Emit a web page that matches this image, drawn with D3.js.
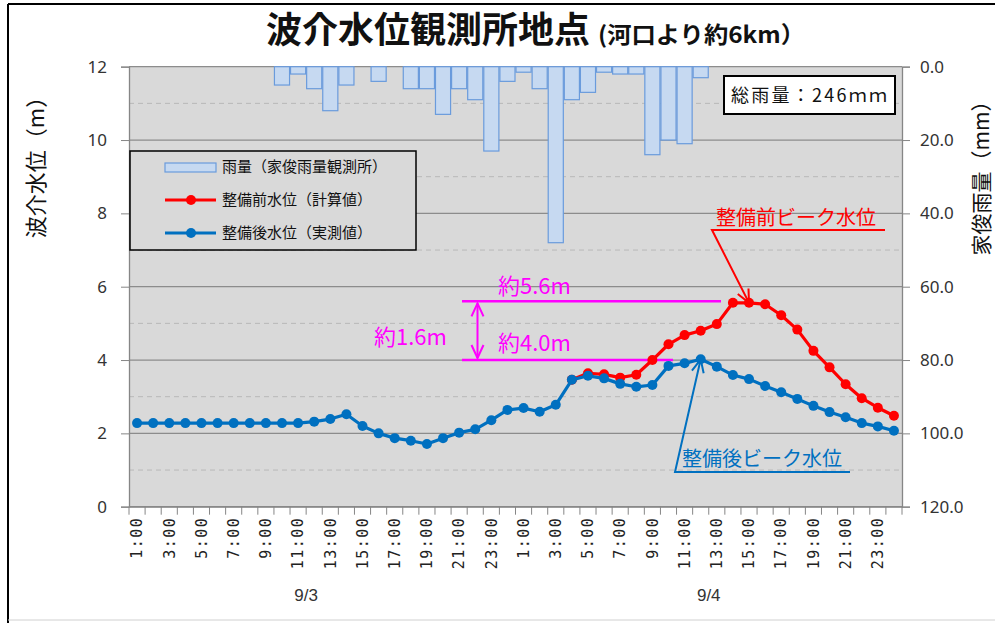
<!DOCTYPE html>
<html>
<head>
<meta charset="utf-8">
<script src="https://cdn.jsdelivr.net/npm/d3@7/dist/d3.min.js"></script>
<style>
body { margin: 0; background: #fff; }
svg { display: block; }
</style>
</head>
<body>
<svg id="chart" width="995" height="623"></svg>
<script>
// data
var days = ["9/3", "9/4"];
var hours = ["1:00", "2:00", "3:00", "4:00", "5:00", "6:00", "7:00", "8:00", "9:00", "10:00", "11:00", "12:00",
             "13:00", "14:00", "15:00", "16:00", "17:00", "18:00", "19:00", "20:00", "21:00", "22:00", "23:00", "24:00"];
var rain = [0, 0, 0, 0, 0, 0, 0, 0, 0, 5, 2, 6, 12, 5, 0, 4, 0, 6, 6, 13, 6, 9, 23, 4,
            1.5, 6, 48, 9, 7, 1.5, 2, 2, 24, 20, 21, 3, 0, 0, 0, 0, 0, 0, 0, 0, 0, 0, 0, 0];
var levelAfter = [2.28, 2.28, 2.28, 2.28, 2.28, 2.28, 2.28, 2.28, 2.28, 2.28, 2.28, 2.32, 2.39, 2.52, 2.2, 2.0,
                  1.87, 1.8, 1.71, 1.87, 2.02, 2.11, 2.36, 2.64, 2.69, 2.59, 2.78, 3.46, 3.57, 3.5, 3.35, 3.27,
                  3.32, 3.84, 3.91, 4.02, 3.82, 3.59, 3.48, 3.29, 3.12, 2.94, 2.75, 2.58, 2.44, 2.28, 2.19, 2.07];
var levelBefore = [null, null, null, null, null, null, null, null, null, null, null, null, null, null, null, null,
                   null, null, null, null, null, null, null, null, null, null, null, 3.46, 3.64, 3.61, 3.52, 3.6,
                   4.0, 4.43, 4.68, 4.8, 4.98, 5.56, 5.56, 5.52, 5.22, 4.83, 4.25, 3.8, 3.34, 2.96, 2.7, 2.48];
var leftTicks = [0, 2, 4, 6, 8, 10, 12];
var minorTicks = [1, 3, 5, 7, 9, 11];
var rightTicks = [0, 20, 40, 60, 80, 100, 120];
var peakBefore = 5.6, peakAfter = 4.0;
var totalRain = "総雨量：246ｍｍ";

var cats = [];
days.forEach(function (d) {
    hours.forEach(function (h) { cats.push(d + " " + h); });
});

var jp = "'Noto Sans CJK JP', 'Noto Sans', sans-serif";
var svg = d3.select("#chart");
var plot = {left: 129, right: 902, top: 66.7, bottom: 506.7};

var x = d3.scaleBand().domain(cats).range([plot.left, plot.right]).padding(0);
var y = d3.scaleLinear().domain([0, 12]).range([plot.bottom, plot.top]);
var yR = d3.scaleLinear().domain([0, 120]).range([plot.top, plot.bottom]);
var bw = x.bandwidth();
function cx(i) { return x(cats[i]) + bw / 2; }

// outer frame
svg.append("line").attr("x1", 8).attr("y1", 4).attr("x2", 995).attr("y2", 4)
    .attr("stroke", "#000").attr("stroke-width", 2);
svg.append("line").attr("x1", 8).attr("y1", 4).attr("x2", 8).attr("y2", 623)
    .attr("stroke", "#000").attr("stroke-width", 2);
svg.append("line").attr("x1", 8).attr("y1", 620).attr("x2", 995).attr("y2", 620)
    .attr("stroke", "#d0d0d0").attr("stroke-width", 1);

// markers for arrows
var defs = svg.append("defs");
[["arrRed", "#ff0000"], ["arrBlue", "#0070c0"], ["arrMag", "#ff00ff"]].forEach(function (m) {
    defs.append("marker")
        .attr("id", m[0])
        .attr("markerUnits", "userSpaceOnUse")
        .attr("markerWidth", 30).attr("markerHeight", 30)
        .attr("refX", 0).attr("refY", 0)
        .attr("viewBox", "-15 -15 30 30")
        .attr("orient", "auto-start-reverse")
        .append("path")
        .attr("d", "M-13,-6 L0,0 L-13,6")
        .attr("fill", "none")
        .attr("stroke", m[1])
        .attr("stroke-width", 2);
});

// plot background
svg.append("rect")
    .attr("x", plot.left).attr("y", plot.top)
    .attr("width", plot.right - plot.left).attr("height", plot.bottom - plot.top)
    .attr("fill", "#d9d9d9");

// grid
svg.selectAll(".minor").data(minorTicks).enter().append("line")
    .attr("x1", plot.left).attr("x2", plot.right)
    .attr("y1", function (d) { return y(d); }).attr("y2", function (d) { return y(d); })
    .attr("stroke", "#b8b8b8").attr("stroke-dasharray", "5,4");
svg.selectAll(".major").data(leftTicks).enter().append("line")
    .attr("x1", plot.left).attr("x2", plot.right)
    .attr("y1", function (d) { return y(d); }).attr("y2", function (d) { return y(d); })
    .attr("stroke", "#8c8c8c").attr("stroke-width", 1.3);

// rain bars hanging from top
svg.append("g").selectAll("rect")
    .data(rain.map(function (v, i) { return {v: v, c: cats[i]}; }).filter(function (d) { return d.v > 0; }))
    .enter().append("rect")
    .attr("x", function (d) { return x(d.c) + 0.5; })
    .attr("y", yR(0))
    .attr("width", bw - 1)
    .attr("height", function (d) { return yR(d.v) - yR(0); })
    .attr("fill", "#c6d9f1")
    .attr("stroke", "#6a9bdc")
    .attr("stroke-width", 1.2);

// axes
var gx = svg.append("g").attr("transform", "translate(0," + plot.bottom + ")")
    .call(d3.axisBottom(x).tickSize(0).tickPadding(10)
        .tickFormat(function (d, i) { return i % 2 === 0 ? d.split(" ")[1] : ""; }));
gx.select(".domain").attr("stroke", "#868686").attr("stroke-width", 1.3);
gx.selectAll("text")
    .attr("transform", "rotate(-90)")
    .attr("x", -10).attr("y", 0).attr("dy", "0.35em")
    .attr("text-anchor", "end")
    .style("font-family", "'DejaVu Sans Mono', monospace")
    .style("font-size", "15px")
    .style("letter-spacing", "1.5px")
    .attr("fill", "#222");
gx.selectAll(".bound").data(cats.concat(["end"])).enter().append("line")
    .attr("x1", function (d) { return d === "end" ? plot.right : x(d); })
    .attr("x2", function (d) { return d === "end" ? plot.right : x(d); })
    .attr("y1", 0).attr("y2", 8)
    .attr("stroke", "#868686");

var gl = svg.append("g").attr("transform", "translate(" + plot.left + ",0)")
    .call(d3.axisLeft(y).tickValues(leftTicks).tickSize(8).tickPadding(14));
var gr = svg.append("g").attr("transform", "translate(" + plot.right + ",0)")
    .call(d3.axisRight(yR).tickValues(rightTicks).tickSize(8).tickPadding(10).tickFormat(d3.format(".1f")));
[gl, gr].forEach(function (g) {
    g.select(".domain").attr("stroke", "#868686").attr("stroke-width", 1.3);
    g.selectAll(".tick line").attr("stroke", "#868686");
    g.selectAll("text").style("font-family", "'Noto Sans', sans-serif").style("font-size", "17px").attr("fill", "#333");
});

// date labels
svg.selectAll(".day").data(days).enter().append("text")
    .attr("x", function (d, i) { return x(cats[i * 25 + 11]); })
    .attr("y", 601)
    .attr("text-anchor", "middle")
    .style("font-family", "'Liberation Sans Narrow', 'Liberation Sans', sans-serif")
    .style("font-size", "17px")
    .attr("fill", "#333")
    .text(function (d) { return d; });

// axis titles
svg.append("text")
    .attr("transform", "translate(44,162) rotate(-90)")
    .attr("text-anchor", "middle")
    .style("font-family", jp).style("font-size", "22px").attr("fill", "#111")
    .text("波介水位（m）");
svg.append("text")
    .attr("transform", "translate(989,173) rotate(-90)")
    .attr("text-anchor", "middle")
    .style("font-family", jp).style("font-size", "21px").attr("fill", "#111")
    .text("家俊雨量（mm）");

// title
var title = svg.append("text").attr("y", 43).style("font-family", jp).style("font-weight", "bold").attr("fill", "#111");
title.append("tspan").attr("x", 266).style("font-size", "36px").text("波介水位観測所地点");
title.append("tspan").attr("x", 598).attr("textLength", 207).attr("lengthAdjust", "spacingAndGlyphs")
    .style("font-size", "23px").text("(河口より約6km）");

// magenta difference annotation
svg.append("line").attr("x1", 462).attr("x2", 721).attr("y1", y(peakBefore)).attr("y2", y(peakBefore))
    .attr("stroke", "#ff00ff").attr("stroke-width", 2.5);
svg.append("line").attr("x1", 462).attr("x2", 673).attr("y1", y(peakAfter)).attr("y2", y(peakAfter))
    .attr("stroke", "#ff00ff").attr("stroke-width", 2.5);
svg.append("line").attr("x1", 477.5).attr("x2", 477.5).attr("y1", y(peakBefore) + 2).attr("y2", y(peakAfter) - 2)
    .attr("stroke", "#ff00ff").attr("stroke-width", 2)
    .attr("marker-start", "url(#arrMag)").attr("marker-end", "url(#arrMag)");
[["約5.6m", 498, 294], ["約4.0m", 498, 351], ["約1.6m", 374, 345]].forEach(function (t) {
    svg.append("text").attr("x", t[1]).attr("y", t[2])
        .style("font-family", jp).style("font-size", "22px").attr("fill", "#ff00ff").text(t[0]);
});

// series
var line = d3.line()
    .defined(function (d) { return d != null; })
    .x(function (d, i) { return cx(i); })
    .y(function (d) { return y(d); });
function drawSeries(vals, color) {
    svg.append("path").datum(vals).attr("d", line)
        .attr("fill", "none").attr("stroke", color).attr("stroke-width", 3.2).attr("stroke-linejoin", "round");
    svg.append("g").selectAll("circle")
        .data(vals.map(function (v, i) { return {v: v, i: i}; }).filter(function (d) { return d.v != null; }))
        .enter().append("circle")
        .attr("cx", function (d) { return cx(d.i); })
        .attr("cy", function (d) { return y(d.v); })
        .attr("r", 5)
        .attr("fill", color);
}
drawSeries(levelBefore, "#ff0000");
drawSeries(levelAfter, "#0070c0");

// peak callouts
svg.append("text").attr("x", 716).attr("y", 225)
    .style("font-family", jp).style("font-size", "20px").attr("fill", "#ff0000").text("整備前ビーク水位");
svg.append("polyline")
    .attr("points", [[885, 230], [712, 230], [cx(38), y(levelBefore[38])]].join(" "))
    .attr("fill", "none").attr("stroke", "#ff0000").attr("stroke-width", 2)
    .attr("marker-end", "url(#arrRed)");
svg.append("text").attr("x", 682).attr("y", 466)
    .style("font-family", jp).style("font-size", "20px").attr("fill", "#0070c0").text("整備後ビーク水位");
svg.append("polyline")
    .attr("points", [[850, 472], [675, 472], [cx(35), y(levelAfter[35])]].join(" "))
    .attr("fill", "none").attr("stroke", "#0070c0").attr("stroke-width", 2)
    .attr("marker-end", "url(#arrBlue)");

// legend
var lg = svg.append("g");
lg.append("rect").attr("x", 130).attr("y", 151).attr("width", 286).attr("height", 99)
    .attr("fill", "#d9d9d9").attr("stroke", "#000").attr("stroke-width", 1.5);
lg.append("rect").attr("x", 165).attr("y", 163).attr("width", 51).attr("height", 9)
    .attr("fill", "#c6d9f1").attr("stroke", "#6a9bdc").attr("stroke-width", 1.2);
[["雨量（家俊雨量観測所）", 167, null], ["整備前水位（計算値）", 200, "#ff0000"], ["整備後水位（実測値）", 233, "#0070c0"]]
    .forEach(function (it) {
        if (it[2]) {
            lg.append("line").attr("x1", 165).attr("x2", 216).attr("y1", it[1]).attr("y2", it[1])
                .attr("stroke", it[2]).attr("stroke-width", 3.2);
            lg.append("circle").attr("cx", 191).attr("cy", it[1]).attr("r", 5).attr("fill", it[2]);
        }
        lg.append("text").attr("x", 222).attr("y", it[1]).attr("dy", "0.36em")
            .style("font-family", jp).style("font-size", "15px").attr("fill", "#111").text(it[0]);
    });

// total rain box
svg.append("rect").attr("x", 724).attr("y", 76).attr("width", 171).attr("height", 38)
    .attr("fill", "#fff").attr("stroke", "#000").attr("stroke-width", 2);
svg.append("text").attr("x", 731).attr("y", 102)
    .attr("textLength", 156).attr("lengthAdjust", "spacing")
    .style("font-family", jp).style("font-size", "18px").attr("fill", "#111").text(totalRain);
</script>
</body>
</html>
